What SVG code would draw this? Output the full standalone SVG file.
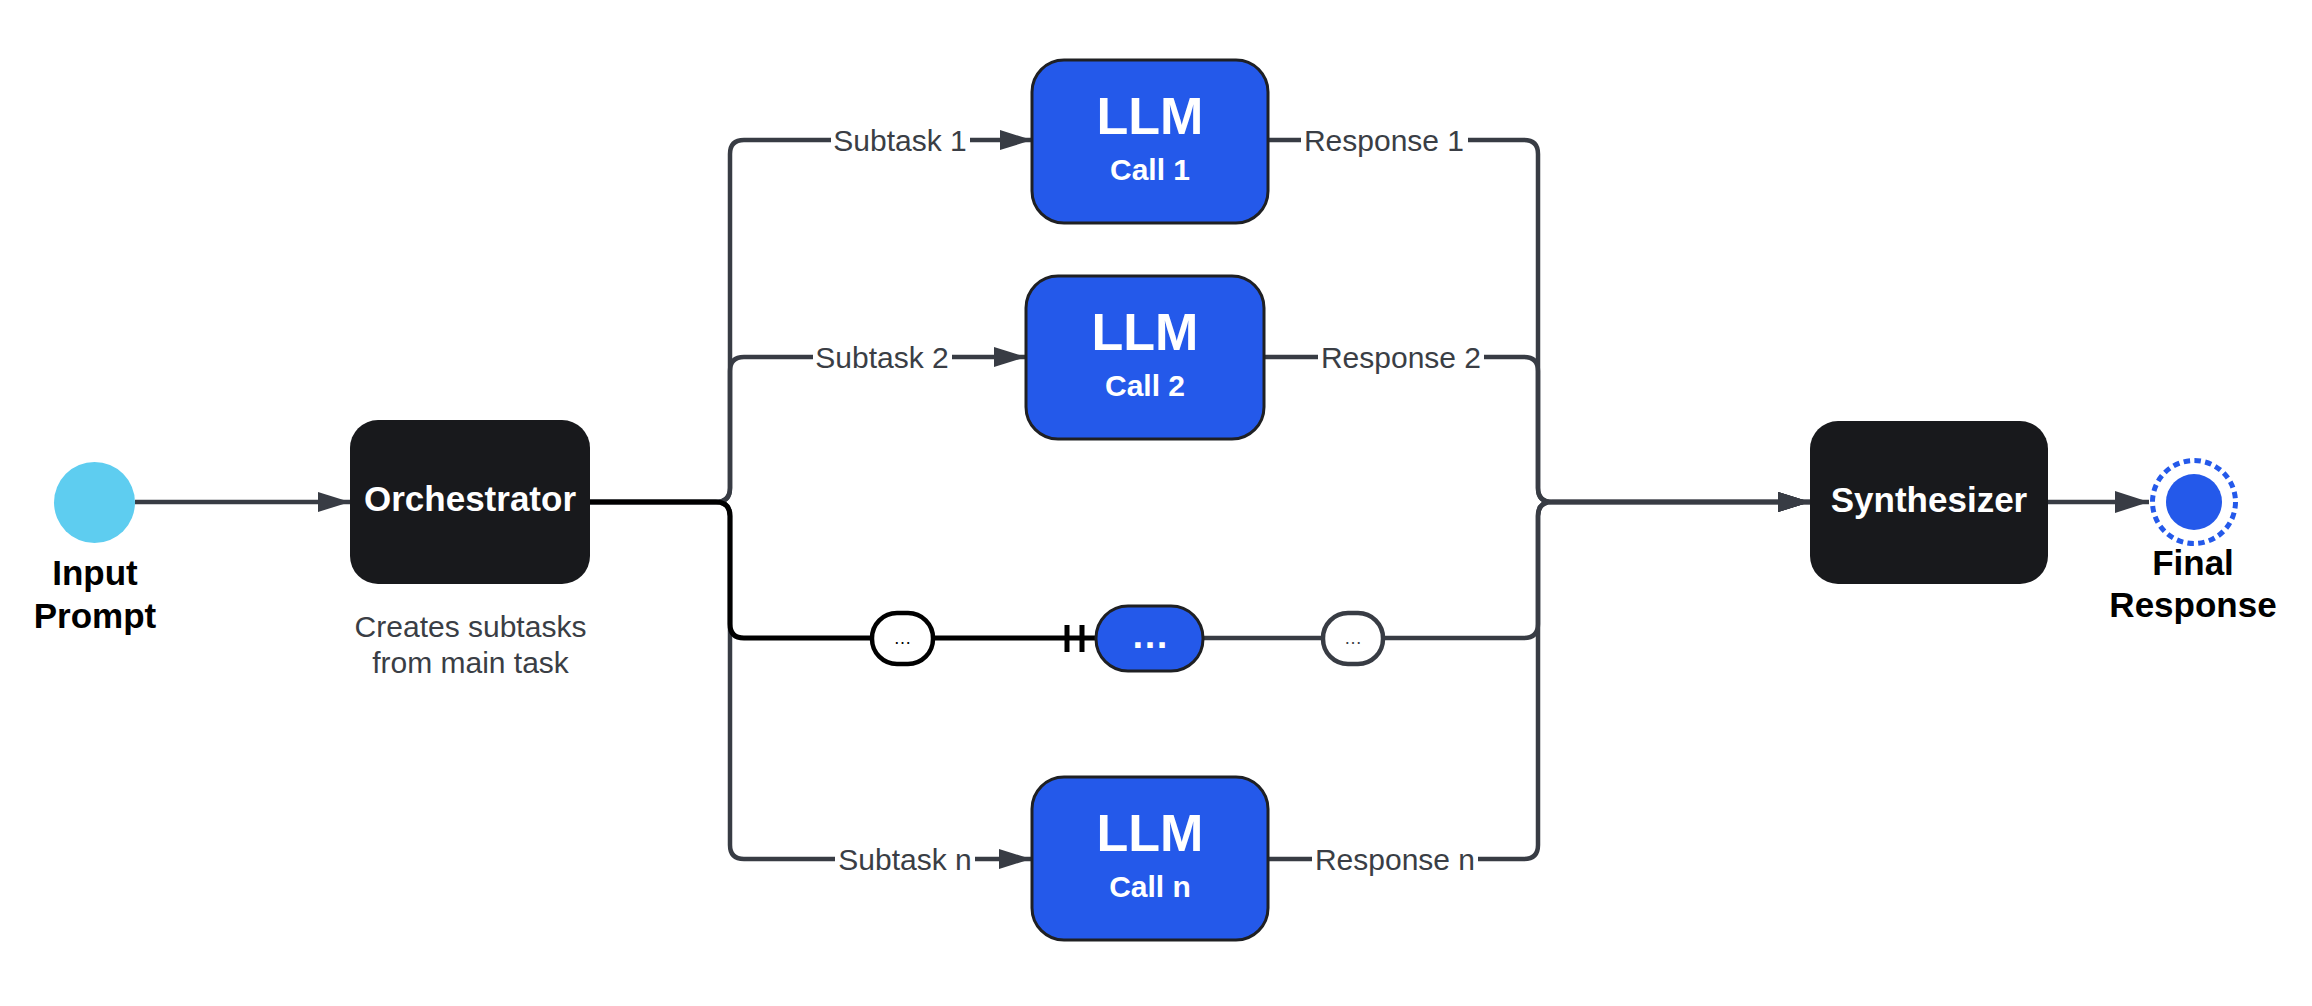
<svg xmlns="http://www.w3.org/2000/svg" width="2312" height="1006" viewBox="0 0 2312 1006">
<defs>
<style>
.t{font-family:"Liberation Sans",Arial,sans-serif}
.lbl{font-size:30px;fill:#3a3e45;text-anchor:middle}
.dark{fill:#18191c}
.llm{fill:#2459ea;stroke:#1f2023;stroke-width:3}
.wt{fill:#fff;font-weight:bold;text-anchor:middle}
.blk{fill:#000;font-weight:bold;text-anchor:middle;font-size:35px}
.g{fill:none;stroke:#383c44;stroke-width:4.5}
.b{fill:none;stroke:#000;stroke-width:5}
.bg{fill:#fff}
</style>
<marker id="ah" markerUnits="userSpaceOnUse" markerWidth="32" markerHeight="20" refX="32" refY="10" orient="auto">
<path d="M0,0 L32,10 L0,20 z" fill="#383c44"/>
</marker>
<marker id="ah2" markerUnits="userSpaceOnUse" markerWidth="34" markerHeight="22" refX="34" refY="11" orient="auto">
<path d="M0,0 L34,11 L0,22 z" fill="#383c44"/>
</marker>
</defs>

<g id="connectors">
<path class="g" d="M135,502 H350" marker-end="url(#ah)"/>
<path class="g" d="M590,502 H716 Q730,502 730,488 V154 Q730,140 744,140 H1032" marker-end="url(#ah)"/>
<path class="g" d="M590,502 H716 Q730,502 730,488 V371 Q730,357 744,357 H1026" marker-end="url(#ah)"/>
<path class="g" d="M590,502 H716 Q730,502 730,516 V845 Q730,859 744,859 H1031" marker-end="url(#ah)"/>
<path class="b" d="M590,502 H716 Q730,502 730,516 V624 Q730,638 744,638 H1096"/>
<path d="M1067,625 V652 M1082,625 V652" stroke="#000" stroke-width="5"/>
<path class="g" d="M1268,140 H1524 Q1538,140 1538,154 V488 Q1538,502 1552,502 H1810" marker-end="url(#ah)"/>
<path class="g" d="M1264,357 H1524 Q1538,357 1538,371 V488 Q1538,502 1552,502 H1810" marker-end="url(#ah)"/>
<path class="g" d="M1269,859 H1524 Q1538,859 1538,845 V516 Q1538,502 1552,502 H1810" marker-end="url(#ah)"/>
<path class="g" d="M1203,638 H1524 Q1538,638 1538,624 V516 Q1538,502 1552,502 H1810" marker-end="url(#ah)"/>
<path class="g" d="M2048,502 H2149" stroke-width="7" marker-end="url(#ah2)"/>

<rect class="bg" x="831" y="124" width="139" height="32"/>
<text class="t lbl" x="900" y="151">Subtask 1</text>
<rect class="bg" x="1301" y="124" width="167" height="32"/>
<text class="t lbl" x="1384" y="151">Response 1</text>
<rect class="bg" x="813" y="341" width="139" height="32"/>
<text class="t lbl" x="882" y="368">Subtask 2</text>
<rect class="bg" x="1318" y="341" width="166" height="32"/>
<text class="t lbl" x="1401" y="368">Response 2</text>
<rect class="bg" x="835" y="843" width="140" height="32"/>
<text class="t lbl" x="905" y="870">Subtask n</text>
<rect class="bg" x="1312" y="843" width="166" height="32"/>
<text class="t lbl" x="1395" y="870">Response n</text>

<g id="pill-left">
<rect x="872" y="613" width="61" height="51" rx="25" ry="25" fill="#fff" stroke="#000" stroke-width="4.5"/>
<text class="t" x="902.5" y="644" font-size="18" text-anchor="middle" fill="#000">…</text>
</g>
<g id="pill-right">
<rect x="1323" y="613" width="60" height="51" rx="25" ry="25" fill="#fff" stroke="#383c44" stroke-width="4.5"/>
<text class="t" x="1353" y="644" font-size="18" text-anchor="middle" fill="#383c44">…</text>
</g>
</g>

<g id="input-prompt">
<circle cx="94.5" cy="502.5" r="40.5" fill="#5ecdf0"/>
<text class="t blk" x="95" y="585">Input</text>
<text class="t blk" x="95" y="628">Prompt</text>
</g>

<g id="orchestrator">
<rect class="dark" x="350" y="420" width="240" height="164" rx="28" ry="28"/>
<text class="t wt" x="470" y="511" font-size="35">Orchestrator</text>
<text class="t" x="470.5" y="637" font-size="30" fill="#3a3e45" text-anchor="middle">Creates subtasks</text>
<text class="t" x="470.5" y="673" font-size="30" fill="#3a3e45" text-anchor="middle">from main task</text>
</g>

<g id="llm-call-1">
<rect class="llm" x="1032" y="60" width="236" height="163" rx="32" ry="32"/>
<text class="t wt" x="1150" y="134" font-size="52">LLM</text>
<text class="t wt" x="1150" y="180" font-size="30">Call 1</text>
</g>

<g id="llm-call-2">
<rect class="llm" x="1026" y="276" width="238" height="163" rx="32" ry="32"/>
<text class="t wt" x="1145" y="350" font-size="52">LLM</text>
<text class="t wt" x="1145" y="396" font-size="30">Call 2</text>
</g>

<g id="llm-call-dots">
<rect class="llm" x="1096" y="606" width="107" height="65" rx="32" ry="32"/>
<text class="t wt" x="1150" y="648" font-size="38">…</text>
</g>

<g id="llm-call-n">
<rect class="llm" x="1032" y="777" width="236" height="163" rx="32" ry="32"/>
<text class="t wt" x="1150" y="851" font-size="52">LLM</text>
<text class="t wt" x="1150" y="897" font-size="30">Call n</text>
</g>

<g id="synthesizer">
<rect class="dark" x="1810" y="421" width="238" height="163" rx="28" ry="28"/>
<text class="t wt" x="1929" y="512" font-size="35">Synthesizer</text>
</g>

<g id="final-response">
<circle cx="2194" cy="502" r="41.5" fill="none" stroke="#2459ea" stroke-width="5" stroke-dasharray="6.5 4.37"/>
<circle cx="2194" cy="502" r="28" fill="#2459ea"/>
<text class="t blk" x="2193" y="575">Final</text>
<text class="t blk" x="2193" y="617">Response</text>
</g>
</svg>
